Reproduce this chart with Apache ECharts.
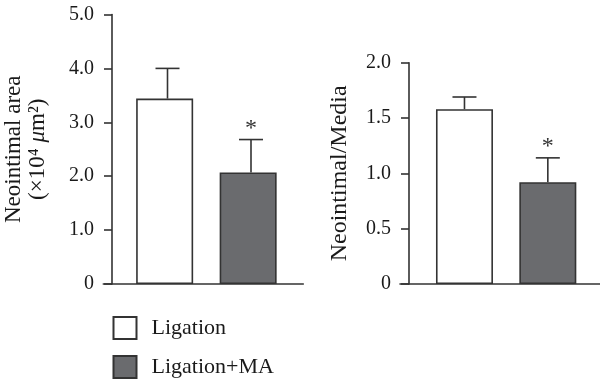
<!DOCTYPE html>
<html>
<head>
<meta charset="utf-8">
<script src="https://cdn.jsdelivr.net/npm/echarts@6/dist/echarts.min.js"></script>
<style>html,body{margin:0;padding:0;background:#fff}#c{width:600px;height:382px}</style>
</head>
<body>
<div id="c"></div>
<script>
// ---- data ----
const categories = ['Ligation', 'Ligation+MA'];
const areaMean = [3.44, 2.07];
const areaErr = [0.56, 0.61];
const ratioMean = [1.58, 0.92];
const ratioErr = [0.11, 0.22];
const significant = [false, true];
const areaTicks = ['0', '1.0', '2.0', '3.0', '4.0', '5.0'];
const ratioTicks = ['0', '0.5', '1.0', '1.5', '2.0'];

// ---- style ----
const FONT = 'Liberation Serif';
const INK = '#333333';
const TEXT = '#1a1a1a';
const FILLS = ['#ffffff', '#6a6b6e'];

const chart = echarts.init(document.getElementById('c'));

function barData(means) {
  return means.map((v, i) => ({ value: v, itemStyle: { color: FILLS[i] } }));
}
function errData(means, errs) {
  return means.map((m, i) => [i, m, errs[i], significant[i] ? 1 : 0]);
}
function renderErr(params, api) {
  const x = api.value(0), m = api.value(1), e = api.value(2), s = api.value(3);
  const p0 = api.coord([x, m]);
  const p1 = api.coord([x, m + e]);
  const st = { stroke: INK, lineWidth: 1.6 };
  const ch = [
    { type: 'line', shape: { x1: p0[0], y1: p0[1], x2: p1[0], y2: p1[1] }, style: st },
    { type: 'line', shape: { x1: p1[0] - 12, y1: p1[1], x2: p1[0] + 12, y2: p1[1] }, style: st }
  ];
  if (s) {
    ch.push({ type: 'text', x: p1[0], y: p1[1] + 1,
      style: { text: '*', fill: INK, font: '24px "' + FONT + '"', align: 'center', verticalAlign: 'bottom' } });
  }
  return { type: 'group', children: ch };
}

const yCommon = {
  type: 'value',
  axisLine: { show: true, lineStyle: { color: INK, width: 1.6 } },
  axisTick: { show: true, length: 8, lineStyle: { color: INK, width: 1.6 } },
  axisLabel: { color: TEXT, fontFamily: FONT, fontSize: 20, margin: 18 },
  splitLine: { show: false },
  nameLocation: 'middle',
  nameTextStyle: { color: TEXT, fontFamily: FONT, fontSize: 23, lineHeight: 24,
    rich: { i: { fontFamily: FONT, fontSize: 23, fontStyle: 'italic', color: TEXT } } }
};
const xHidden = { type: 'category', data: categories, axisLine: { show: false }, axisTick: { show: false }, axisLabel: { show: false } };
const xLine = { type: 'value', min: 0, max: 1, axisLine: { show: true, onZero: false, lineStyle: { color: INK, width: 1.6 } },
  axisTick: { show: false }, axisLabel: { show: false }, splitLine: { show: false } };

function legendFor(name, top) {
  return {
    orient: 'vertical', left: 107.5, top: top, itemWidth: 23, itemHeight: 22, icon: 'rect',
    data: [name], selectedMode: false,
    textStyle: { color: TEXT, fontFamily: FONT, fontSize: 22, padding: [0, 0, 0, 10] }
  };
}

chart.setOption({
  animation: false,
  grid: [
    { left: 125.75, width: 167, top: 14.5, height: 269.5 },
    { left: 103.3, width: 200, top: 14.5, height: 269.5 },
    { left: 422.8, width: 166.7, top: 62.7, height: 221.3 },
    { left: 400, width: 200, top: 62.7, height: 221.3 }
  ],
  xAxis: [
    Object.assign({ gridIndex: 0 }, xHidden),
    Object.assign({ gridIndex: 1 }, xLine),
    Object.assign({ gridIndex: 2 }, xHidden),
    Object.assign({ gridIndex: 3 }, xLine)
  ],
  yAxis: [
    Object.assign({}, yCommon, { gridIndex: 0, min: 0, max: 5, interval: 1, offset: 13.75,
      axisLabel: Object.assign({}, yCommon.axisLabel, { formatter: (v, i) => areaTicks[i] }),
      name: 'Neointimal area\n(×10⁴ {i|μ}m²)', nameGap: 62 }),
    { gridIndex: 1, type: 'value', show: false, min: 0, max: 1 },
    Object.assign({}, yCommon, { gridIndex: 2, min: 0, max: 2, interval: 0.5, offset: 13.8,
      axisLabel: Object.assign({}, yCommon.axisLabel, { formatter: (v, i) => ratioTicks[i] }),
      name: 'Neointimal/Media', nameGap: 57,
      nameTextStyle: Object.assign({}, yCommon.nameTextStyle, { fontSize: 24 }) }),
    { gridIndex: 3, type: 'value', show: false, min: 0, max: 1 }
  ],
  legend: [legendFor(categories[0], 311), legendFor(categories[1], 350)],
  series: [
    { name: 'area', type: 'bar', xAxisIndex: 0, yAxisIndex: 0, barWidth: 57, data: barData(areaMean),
      itemStyle: { borderColor: INK, borderWidth: 1.6 } },
    { name: 'areaErr', type: 'custom', xAxisIndex: 0, yAxisIndex: 0, renderItem: renderErr, data: errData(areaMean, areaErr), z: 3 },
    { name: 'ratio', type: 'bar', xAxisIndex: 2, yAxisIndex: 2, barWidth: 57, data: barData(ratioMean),
      itemStyle: { borderColor: INK, borderWidth: 1.6 } },
    { name: 'ratioErr', type: 'custom', xAxisIndex: 2, yAxisIndex: 2, renderItem: renderErr, data: errData(ratioMean, ratioErr), z: 3 },
    { name: categories[0], type: 'bar', xAxisIndex: 0, yAxisIndex: 0, data: [],
      itemStyle: { color: FILLS[0], borderColor: INK, borderWidth: 1.6 } },
    { name: categories[1], type: 'bar', xAxisIndex: 0, yAxisIndex: 0, data: [],
      itemStyle: { color: FILLS[1], borderColor: INK, borderWidth: 1.6 } }
  ]
});
</script>
</body>
</html>
